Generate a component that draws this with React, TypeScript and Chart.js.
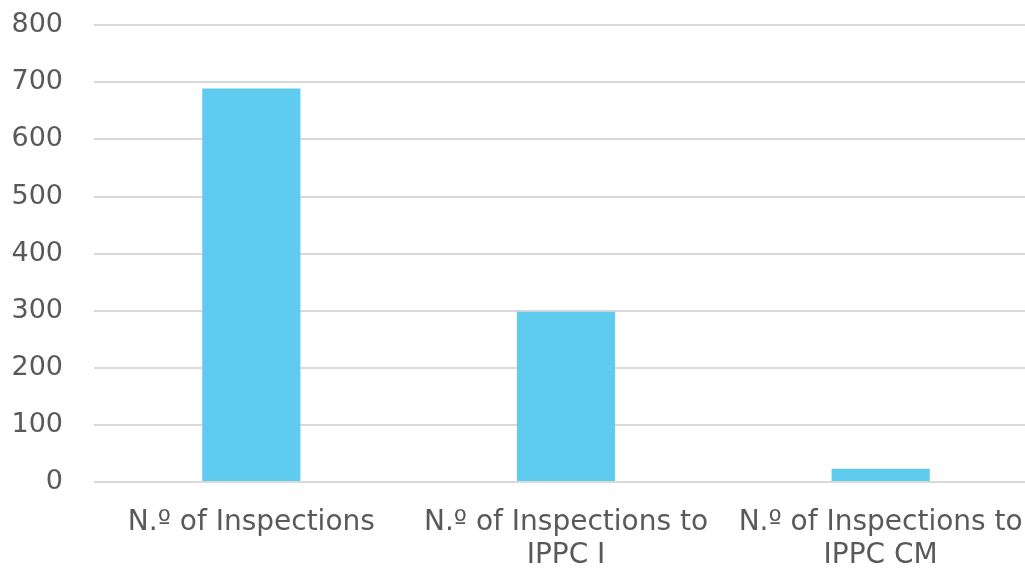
import React, { useEffect, useRef } from "react";
import { Chart, registerables } from "chart.js";

Chart.register(...registerables);

const categories: (string | string[])[] = [
  "N.º of Inspections",
  ["N.º of Inspections to", "IPPC I"],
  ["N.º of Inspections to", "IPPC CM"],
];
const inspections = [689, 298, 23];
const yTicks = [0, 100, 200, 300, 400, 500, 600, 700, 800];

export default function App() {
  const ref = useRef<HTMLCanvasElement | null>(null);
  useEffect(() => {
    if (!ref.current) return;
    const yFont = { family: "DejaVu Sans", size: 27 };
    const xFont = { family: "DejaVu Sans", size: 28, lineHeight: 1.18 };
    const chart = new Chart(ref.current, {
      type: "bar",
      data: {
        labels: categories,
        datasets: [
          {
            data: inspections,
            backgroundColor: "#5FCBEF",
            categoryPercentage: 1,
            barPercentage: 0.312,
          },
        ],
      },
      options: {
        animation: false,
        responsive: false,
        maintainAspectRatio: false,
        layout: { padding: { top: 11, right: 0, bottom: 0, left: 0 } },
        plugins: { legend: { display: false }, tooltip: { enabled: false } },
        scales: {
          x: {
            grid: { display: false, drawTicks: false },
            border: { display: false },
            ticks: {
              color: "#595959",
              font: xFont,
              padding: 24,
              maxRotation: 0,
              autoSkip: false,
            },
            afterFit: (s: any) => {
              s.height = 88;
              s.paddingLeft = 0;
              s.paddingRight = 0;
            },
          },
          y: {
            min: 0,
            max: 800,
            afterBuildTicks: (s: any) => {
              s.ticks = yTicks.map((v) => ({ value: v }));
            },
            grid: { color: "#D9D9D9", lineWidth: 2, drawTicks: false },
            border: { display: false },
            ticks: { color: "#595959", font: yFont, padding: 31 },
            afterFit: (s: any) => {
              s.width = 94;
            },
          },
        },
      },
    });
    return () => chart.destroy();
  }, []);
  return (
    <div
      style={{
        position: "fixed",
        left: 0,
        top: 0,
        width: 1025,
        height: 570,
        overflow: "hidden",
        background: "#fff",
      }}
    >
      <canvas
        ref={ref}
        width={1038}
        height={592}
        style={{ display: "block", marginTop: -22 }}
      />
    </div>
  );
}
